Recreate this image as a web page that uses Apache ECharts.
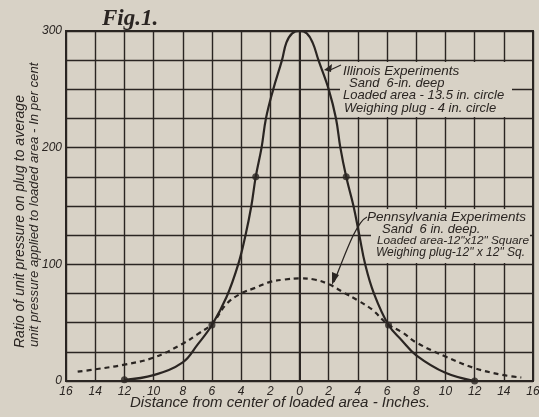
<!DOCTYPE html>
<html>
<head>
<meta charset="utf-8">
<script src="https://cdn.jsdelivr.net/npm/echarts@6/dist/echarts.min.js"></script>
<style>
  html, body { margin: 0; padding: 0; background: #d8d2c6; }
  #chart { width: 539px; height: 417px; }
</style>
</head>
<body>
<div id="chart"></div>
<script>
// Illinois experiments - solid curve (distance in inches, ratio in per cent)
const illinoisX = [-12, -10, -8, -7, -6, -5, -4.2, -3.7, -3.3, -3, -2.6, -2.3, -1.8, -1.2, -0.9, -0.5, 0, 0.5, 0.9, 1.3, 2, 2.5, 2.8, 3.2, 3.7, 4.1, 4.5, 5.1, 6.1, 7, 8, 10, 12];
const illinoisY = [1, 5, 16, 31, 48, 72, 100, 125, 150, 175, 200, 225, 250, 275, 290, 298, 300, 298, 290, 275, 250, 225, 200, 175, 150, 125, 100, 75, 48, 35, 22, 7, 0];
// points marked with a dot on the Illinois curve
const illinoisDotX = [-12, -6, -3, 3.2, 6.1, 12];
const illinoisDotY = [1, 48, 175, 175, 48, 0];

// Pennsylvania experiments - dashed curve
const pennX = [-15.2, -14, -12, -10, -8, -7, -6, -5, -4, -3, -2, -1, 0, 1, 2, 3, 4, 5, 6, 7, 8, 10, 12, 14, 15.2];
const pennY = [8, 10, 14, 20, 32, 40, 49, 66, 75, 80, 85, 87, 88, 87, 83, 76, 69, 61, 49, 42, 33, 21, 11, 5, 3];

// axis ticks
const xMin = -16, xMax = 16, xStep = 2;
const yMin = 0, yMax = 300, yStep = 25, yLabelStep = 100;

const illinoisNote = [
  'Illinois Experiments',
  'Sand  6-in. deep',
  'Loaded area - 13.5 in. circle',
  'Weighing plug - 4 in. circle'
];
const pennNote = [
  'Pennsylvania Experiments',
  'Sand  6 in. deep.',
  'Loaded area-12"x12" Square',
  'Weighing plug-12" x 12" Sq.'
];
const yTitle = [
  'Ratio of unit pressure on plug to average',
  'unit pressure applied to loaded area - In per cent'
];
const xTitle = 'Distance from center of loaded area - Inches.';

const ink = '#2a2522';
const paper = '#d8d2c6';
const hand = "'Liberation Sans', 'DejaVu Sans', sans-serif";

function zip(xs, ys) {
  return xs.map((x, i) => [x, ys[i]]);
}

const myChart = echarts.init(document.getElementById('chart'));

function noteText(lines, xs, y0, dy, sizes) {
  return lines.map((t, i) => ({
    type: 'text',
    z: 6,
    x: xs[i],
    y: y0 + i * dy,
    style: {
      text: t,
      fill: ink,
      font: 'italic ' + sizes[i] + 'px ' + hand,
      verticalAlign: 'middle'
    }
  }));
}

const option = {
  backgroundColor: paper,
  animation: false,
  grid: {
    left: 66,
    right: 6,
    top: 31,
    bottom: 36,
    outerBoundsMode: 'none',
    containLabel: false,
    show: true,
    borderColor: ink,
    borderWidth: 2
  },
  xAxis: {
    type: 'value',
    min: xMin,
    max: xMax,
    interval: xStep,
    axisLine: { show: true, lineStyle: { color: ink, width: 2 } },
    axisTick: { show: false },
    splitLine: { show: true, lineStyle: { color: ink, width: 1.4 } },
    axisLabel: {
      color: ink,
      fontFamily: hand,
      fontStyle: 'italic',
      fontSize: 12,
      margin: 5,
      formatter: v => String(Math.abs(v))
    }
  },
  yAxis: {
    type: 'value',
    min: yMin,
    max: yMax,
    interval: yStep,
    axisLine: { show: true, lineStyle: { color: ink, width: 2 } },
    axisTick: { show: false },
    splitLine: { show: true, lineStyle: { color: ink, width: 1.4 } },
    axisLabel: {
      color: ink,
      fontFamily: hand,
      fontStyle: 'italic',
      fontSize: 12,
      margin: 4,
      formatter: v => (v % yLabelStep === 0 ? String(v) : '')
    }
  },
  graphic: [
    {
      type: 'text',
      x: 102,
      y: 19,
      style: {
        text: 'Fig.1.',
        fill: ink,
        font: 'italic bold 23px "Liberation Serif", "DejaVu Serif", serif',
        verticalAlign: 'middle'
      }
    },
    {
      type: 'text',
      x: 130,
      y: 403,
      style: {
        text: xTitle,
        fill: ink,
        font: 'italic 15px ' + hand,
        verticalAlign: 'middle'
      }
    },
    {
      type: 'text',
      x: 20,
      y: 348,
      rotation: Math.PI / 2,
      style: {
        text: yTitle[0],
        fill: ink,
        font: 'italic 14px ' + hand,
        verticalAlign: 'middle'
      }
    },
    {
      type: 'text',
      x: 34,
      y: 347,
      rotation: Math.PI / 2,
      style: {
        text: yTitle[1],
        fill: ink,
        font: 'italic 13.2px ' + hand,
        verticalAlign: 'middle'
      }
    },
    // blank areas behind the notes
    { type: 'rect', z: 5, shape: { x: 340, y: 62, width: 172, height: 55 }, style: { fill: paper } },
    { type: 'rect', z: 5, shape: { x: 371, y: 209, width: 159, height: 54 }, style: { fill: paper } },
    // leaders
    {
      type: 'polyline', z: 6,
      shape: { points: [[341, 65], [328, 71]] },
      style: { stroke: ink, lineWidth: 1.3, fill: null }
    },
    {
      type: 'polyline', z: 6,
      shape: { points: [[324, 70], [332, 64], [331, 72]] },
      style: { stroke: null, fill: ink }
    },
    {
      type: 'bezierCurve', z: 6,
      shape: { x1: 367, y1: 217, x2: 334, y2: 282, cpx1: 356, cpy1: 222, cpx2: 345, cpy2: 255 },
      style: { stroke: ink, lineWidth: 1.3, fill: null }
    },
    {
      type: 'polyline', z: 6,
      shape: { points: [[332, 285], [332, 272], [339, 275]] },
      style: { stroke: null, fill: ink }
    }
  ]
    .concat(noteText(illinoisNote, [343, 349, 343, 344], 71, 12.3, [13.5, 13, 13, 13]))
    .concat(noteText(pennNote, [367, 382, 377, 376], 217, 12, [13.5, 13, 11.8, 12])),
  series: [
    {
      name: 'Illinois',
      type: 'line',
      smooth: 0.4,
      showSymbol: false,
      lineStyle: { color: ink, width: 2.2 },
      data: zip(illinoisX, illinoisY)
    },
    {
      name: 'Illinois points',
      type: 'scatter',
      symbolSize: 7,
      itemStyle: { color: ink },
      data: zip(illinoisDotX, illinoisDotY)
    },
    {
      name: 'Pennsylvania',
      type: 'line',
      smooth: 0.4,
      showSymbol: false,
      lineStyle: { color: ink, width: 2.2, type: [5, 4] },
      data: zip(pennX, pennY)
    }
  ]
};
myChart.setOption(option);
</script>
</body>
</html>
